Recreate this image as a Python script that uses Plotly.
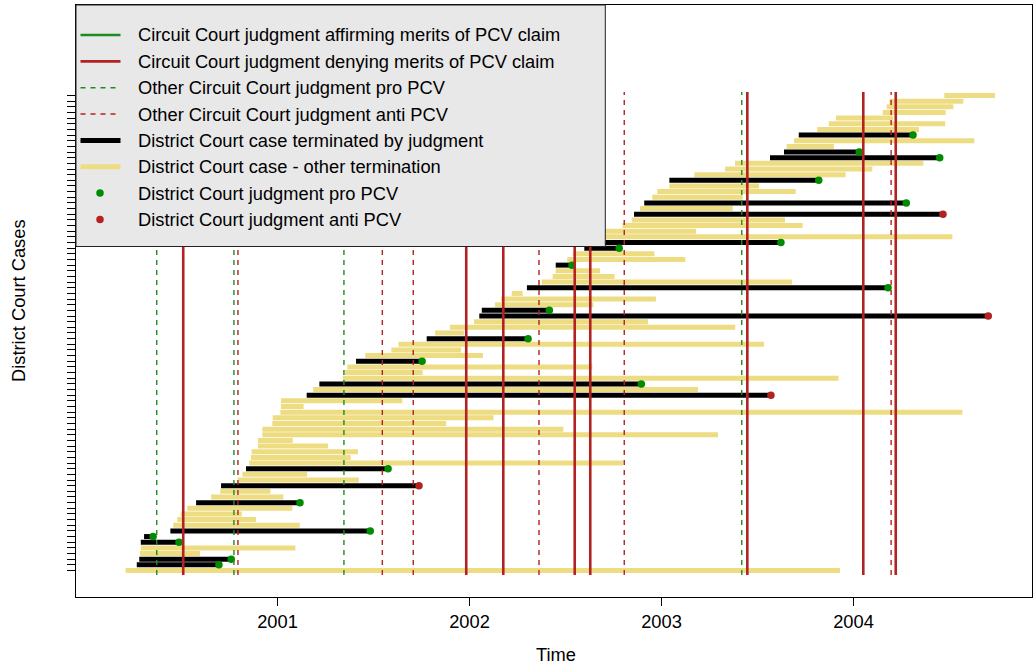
import plotly.graph_objects as go

# ---------------- data (decimal years) ----------------
# one District Court case per row, row 1 at the bottom
case_start = [
    2000.209, 2000.267, 2000.280, 2000.284, 2000.288, 2000.288, 2000.305, 2000.442, 2000.457, 2000.478,
    2000.496, 2000.530, 2000.576, 2000.654, 2000.702, 2000.706, 2000.793, 2000.817, 2000.836, 2000.853,
    2000.862, 2000.865, 2000.898, 2000.898, 2000.921, 2000.921, 2000.973, 2000.975, 2001.015, 2001.018,
    2001.018, 2001.152, 2001.186, 2001.218, 2001.340, 2001.352, 2001.364, 2001.409, 2001.457, 2001.593,
    2001.630, 2001.777, 2001.821, 2001.898, 2002.024, 2002.051, 2002.064, 2002.133, 2002.164, 2002.220,
    2002.299, 2002.376, 2002.433, 2002.449, 2002.449, 2002.509, 2002.538, 2002.598, 2002.628, 2002.659,
    2002.680, 2002.796, 2002.845, 2002.857, 2002.888, 2002.910, 2002.952, 2002.978, 2003.041, 2003.041,
    2003.171, 2003.331, 2003.383, 2003.565, 2003.638, 2003.652, 2003.690, 2003.715, 2003.811, 2003.871,
    2003.909, 2004.152, 2004.173, 2004.187, 2004.473,
]
case_end = [
    2003.930, 2000.695, 2000.759, 2000.596, 2001.093, 2000.487, 2000.352, 2001.483, 2001.116, 2000.888,
    2000.814, 2001.077, 2001.117, 2001.030, 2000.963, 2001.737, 2001.423, 2001.154, 2001.576, 2002.799,
    2001.381, 2001.419, 2001.263, 2001.079, 2003.294, 2002.489, 2001.878, 2002.125, 2004.567, 2001.136,
    2001.650, 2003.570, 2003.190, 2002.895, 2003.922, 2001.756, 2002.640, 2001.753, 2002.070, 2001.956,
    2003.534, 2002.305, 2001.971, 2003.384, 2002.930, 2004.702, 2002.416, 2002.645, 2002.971, 2002.277,
    2004.180, 2003.680, 2002.756, 2002.680, 2002.534, 2003.124, 2002.963, 2002.780, 2003.622, 2004.515,
    2003.180, 2003.735, 2003.643, 2004.466, 2003.371, 2004.275, 2003.423, 2003.699, 2003.508, 2003.819,
    2003.959, 2004.098, 2004.364, 2004.449, 2004.030, 2003.898, 2004.629, 2004.310, 2004.341, 2004.478,
    2004.207, 2004.480, 2004.520, 2004.572, 2004.737,
]
# 'J' = terminated by judgment, 'O' = other termination
case_termination = [
    'O', 'J', 'J', 'O', 'O', 'J', 'J', 'J', 'O', 'O',
    'O', 'O', 'J', 'O', 'O', 'J', 'O', 'O', 'J', 'O',
    'O', 'O', 'O', 'O', 'O', 'O', 'O', 'O', 'O', 'O',
    'O', 'J', 'O', 'J', 'O', 'O', 'O', 'J', 'O', 'O',
    'O', 'J', 'O', 'O', 'O', 'J', 'J', 'O', 'O', 'O',
    'J', 'O', 'O', 'O', 'J', 'O', 'O', 'J', 'J', 'O',
    'O', 'O', 'O', 'J', 'O', 'J', 'O', 'O', 'O', 'J',
    'O', 'O', 'O', 'J', 'J', 'O', 'O', 'J', 'O', 'O',
    'O', 'O', 'O', 'O', 'O',
]
# District Court judgment direction for judgment cases (row number -> direction)
judgment_direction = {
    2: 'pro', 3: 'pro', 6: 'pro', 7: 'pro', 8: 'pro', 13: 'pro', 16: 'anti', 19: 'pro',
    32: 'anti', 34: 'pro', 38: 'pro', 42: 'pro', 46: 'anti', 47: 'pro', 51: 'pro', 55: 'pro',
    58: 'pro', 59: 'pro', 64: 'anti', 66: 'pro', 70: 'pro', 74: 'pro', 75: 'pro', 78: 'pro',
}

circuit_affirm = []
circuit_deny = [2000.509, 2001.983, 2002.176, 2002.548, 2002.629, 2003.447, 2004.051, 2004.220]
other_circuit_pro = [2000.371, 2000.773, 2001.346, 2003.418]
other_circuit_anti = [2000.794, 2001.546, 2001.707, 2002.362, 2002.806, 2004.196]

x_tick_values = [2001, 2002, 2003, 2004]
x_tick_labels = ['2001', '2002', '2003', '2004']

legend_labels = [
    "Circuit Court judgment affirming merits of PCV claim",
    "Circuit Court judgment denying merits of PCV claim",
    "Other Circuit Court judgment pro PCV",
    "Other Circuit Court judgment anti PCV",
    "District Court case terminated by judgment",
    "District Court case - other termination",
    "District Court judgment pro PCV",
    "District Court judgment anti PCV",
]

# ---------------- styles / layout constants ----------------
GREEN = '#008B00'
GREEN_LINE = '#1F8B1F'
RED = '#B22222'
BLACK = '#000000'
YELLOW = '#EEDC82'
LEGEND_BG = '#E8E8E8'
FONT = 'Liberation Sans, Arial, Helvetica, sans-serif'
FS = 18.3

W, H = 1033, 664
ML, MR, MT, MB = 76, 1, 5, 67
X_RANGE = [1999.9505, 2004.9297]
Y_RANGE = [-3.686, 101.0]
VLINE_Y = [0.2, 85.6]

n = len(case_start)
rows = list(range(1, n + 1))

fig = go.Figure()


def seg_xy(idx):
    xs, ys = [], []
    for i in idx:
        xs += [case_start[i], case_end[i], None]
        ys += [rows[i], rows[i], None]
    return xs, ys


other_idx = [i for i in range(n) if case_termination[i] == 'O']
judg_idx = [i for i in range(n) if case_termination[i] == 'J']

xs, ys = seg_xy(other_idx)
fig.add_trace(go.Scatter(x=xs, y=ys, mode='lines', line=dict(color=YELLOW, width=5),
                         hoverinfo='skip', showlegend=False))
xs, ys = seg_xy(judg_idx)
fig.add_trace(go.Scatter(x=xs, y=ys, mode='lines', line=dict(color=BLACK, width=5),
                         hoverinfo='skip', showlegend=False))

for direction, col in (('pro', GREEN), ('anti', RED)):
    rr = [r for r, d in judgment_direction.items() if d == direction]
    fig.add_trace(go.Scatter(x=[case_end[r - 1] for r in rr], y=rr, mode='markers',
                             marker=dict(color=col, size=7.5, line=dict(width=0)),
                             hoverinfo='skip', showlegend=False))


def vlines(vals, color, width, dash):
    xs, ys = [], []
    for v in vals:
        xs += [v, v, None]
        ys += [VLINE_Y[0], VLINE_Y[1], None]
    fig.add_trace(go.Scatter(x=xs, y=ys, mode='lines',
                             line=dict(color=color, width=width, dash=dash),
                             hoverinfo='skip', showlegend=False))


vlines(other_circuit_pro, GREEN_LINE, 1.4, '5px,5px')
vlines(other_circuit_anti, RED, 1.4, '5px,5px')
vlines(circuit_affirm, GREEN_LINE, 2.6, 'solid')
vlines(circuit_deny, RED, 2.6, 'solid')

# ---------------- hand-drawn legend (pixel -> paper) ----------------
PW = W - ML - MR
PH = H - MT - MB


def px(x):
    return (x - ML) / PW


def py(y):
    return (H - MB - y) / PH


shapes = []
shapes.append(dict(type='rect', xref='paper', yref='paper', layer='above',
                   x0=px(76), x1=px(605.3), y0=py(246.5), y1=py(5),
                   fillcolor=LEGEND_BG, line=dict(color='#222222', width=1)))
legend_styles = [
    ('line', GREEN_LINE, 2.6, 'solid'),
    ('line', RED, 2.6, 'solid'),
    ('line', GREEN_LINE, 1.4, '5px,5px'),
    ('line', RED, 1.4, '5px,5px'),
    ('line', BLACK, 5, 'solid'),
    ('line', YELLOW, 5, 'solid'),
    ('dot', GREEN, 7.5, None),
    ('dot', RED, 7.5, None),
]
annotations = []
for i, (lab, st) in enumerate(zip(legend_labels, legend_styles)):
    yi = 35.0 + i * 26.35
    kind, col, w, dash = st
    if kind == 'line':
        shapes.append(dict(type='line', xref='paper', yref='paper', layer='above',
                           x0=px(80.5), x1=px(120.5), y0=py(yi), y1=py(yi),
                           line=dict(color=col, width=w, dash=dash)))
    else:
        r = w / 2
        shapes.append(dict(type='circle', xref='paper', yref='paper', layer='above',
                           xsizemode='pixel', ysizemode='pixel',
                           xanchor=px(100), yanchor=py(yi),
                           x0=-r, x1=r, y0=-r, y1=r,
                           fillcolor=col, line=dict(width=0)))
    annotations.append(dict(text=lab, xref='paper', yref='paper', x=px(135.5), y=py(yi),
                            xanchor='left', yanchor='middle', showarrow=False,
                            font=dict(family=FONT, size=FS, color='black')))

annotations.append(dict(text='Time', xref='paper', yref='paper', x=px(556), y=py(654),
                        xanchor='center', yanchor='middle', showarrow=False,
                        font=dict(family=FONT, size=FS, color='black')))
annotations.append(dict(text='District Court Cases', xref='paper', yref='paper',
                        x=px(18), y=py(301), textangle=-90,
                        xanchor='center', yanchor='middle', showarrow=False,
                        font=dict(family=FONT, size=FS, color='black')))

fig.update_layout(
    width=W, height=H, autosize=False,
    margin=dict(l=ML, r=MR, t=MT, b=MB, pad=0),
    plot_bgcolor='white', paper_bgcolor='white',
    showlegend=False,
    shapes=shapes, annotations=annotations,
    font=dict(family=FONT, size=FS, color='black'),
    xaxis=dict(range=X_RANGE, tickvals=x_tick_values, ticktext=x_tick_labels,
               ticks='outside', ticklen=8, tickwidth=1, tickcolor='black',
               showline=True, linecolor='black', linewidth=1, mirror=True,
               showgrid=False, zeroline=False,
               tickfont=dict(family=FONT, size=FS, color='black')),
    yaxis=dict(range=Y_RANGE, tickvals=rows, showticklabels=False,
               ticks='outside', ticklen=8, tickwidth=1, tickcolor='black',
               showline=True, linecolor='black', linewidth=1, mirror=True,
               showgrid=False, zeroline=False),
)

fig.write_html('out.html',
               config={'displayModeBar': False, 'staticPlot': True},
               post_script="document.body.style.margin='0px';document.body.style.overflow='hidden';")
